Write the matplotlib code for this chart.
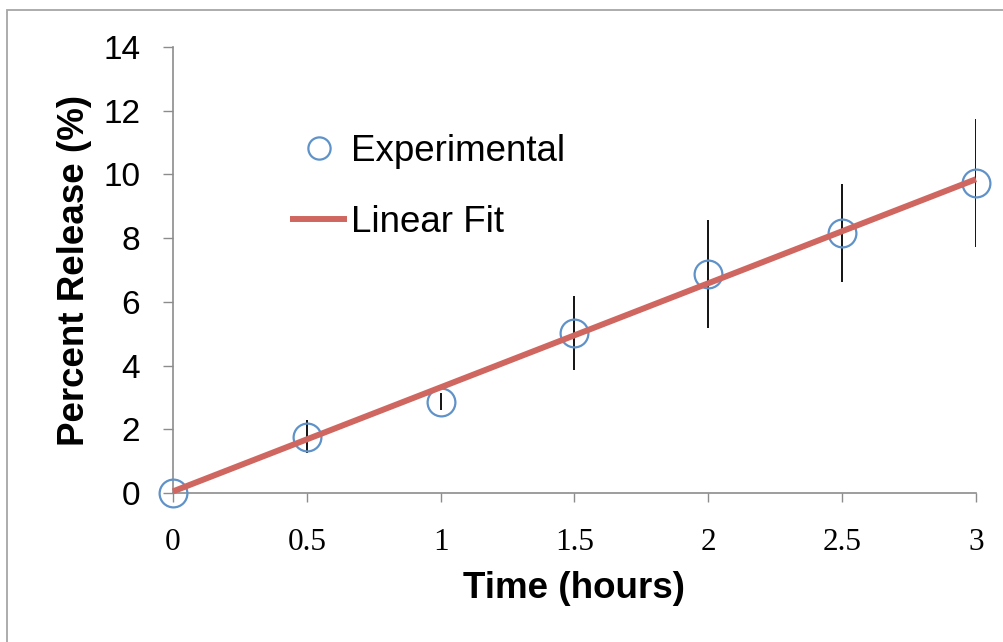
import matplotlib
matplotlib.use("Agg")
import matplotlib.pyplot as plt
from matplotlib.patches import Rectangle

matplotlib.rcParams["font.family"] = ["Liberation Sans", "DejaVu Sans"]

# 数据
time_h = [0, 0.5, 1.0, 1.5, 2.0, 2.5, 3.0]
release = [0.0, 1.76, 2.86, 5.02, 6.87, 8.15, 9.73]
release_err = [0.0, 0.52, 0.27, 1.15, 1.70, 1.54, 2.00]

fit_x = [0, 3]
fit_y = [0.05, 9.85]

x_ticks = [0, 0.5, 1, 1.5, 2, 2.5, 3]
x_tick_labels = ["0", "0.5", "1", "1.5", "2", "2.5", "3"]
y_ticks = [0, 2, 4, 6, 8, 10, 12, 14]

BLUE = "#5F92C8"
RED = "#CF6760"
GRAY = "#8C8C8C"

fig = plt.figure(figsize=(10.04, 6.42), dpi=100)
ax = fig.add_axes([0.1723, 0.2321, 0.7998, 0.6947])

# 外框
fig.patches.append(Rectangle((7 / 1004, -0.1), 1.2, 1 - 9.5 / 642 + 0.1,
                             transform=fig.transFigure, fill=False,
                             edgecolor="#A6A6A6", linewidth=1.3))

ax.errorbar(time_h, release, yerr=release_err, fmt="none", ecolor="black",
            elinewidth=1.3, capsize=0, zorder=2)
ax.plot(time_h, release, "o", markersize=20, markerfacecolor="none",
        markeredgecolor=BLUE, markeredgewidth=1.6, clip_on=False,
        label="Experimental", zorder=3)
ax.plot(fit_x, fit_y, "-", color=RED, linewidth=4.3, solid_capstyle="butt",
        clip_on=False, label="Linear Fit", zorder=4)

ax.set_xlim(0, 3)
ax.set_ylim(0, 14)
ax.set_xticks(x_ticks)
ax.set_xticklabels(x_tick_labels, family=["Liberation Serif", "DejaVu Serif"], fontsize=22.5)
ax.set_yticks(y_ticks)
ax.tick_params(axis="y", labelsize=24, length=7.5, width=1, color=GRAY, pad=16)
ax.tick_params(axis="x", length=6.5, width=1, color=GRAY, pad=19)

for side in ["top", "right"]:
    ax.spines[side].set_visible(False)
for side in ["left", "bottom"]:
    ax.spines[side].set_color(GRAY)
    ax.spines[side].set_linewidth(1.2)

ax.set_xlabel("Time (hours)", fontsize=26.5, fontweight="bold", labelpad=10)
ax.set_ylabel("Percent Release (%)", fontsize=26.5, fontweight="bold", labelpad=8)

leg = ax.legend(loc="upper left", bbox_to_anchor=(290 / 1004, 1 - 134 / 642),
                bbox_transform=fig.transFigure, frameon=False, fontsize=26.5,
                handlelength=1.55, handletextpad=0.1, labelspacing=0.97,
                borderpad=0, borderaxespad=0)
leg.legend_handles[0].set_markersize(16)

fig.savefig("out.png", dpi=100)
